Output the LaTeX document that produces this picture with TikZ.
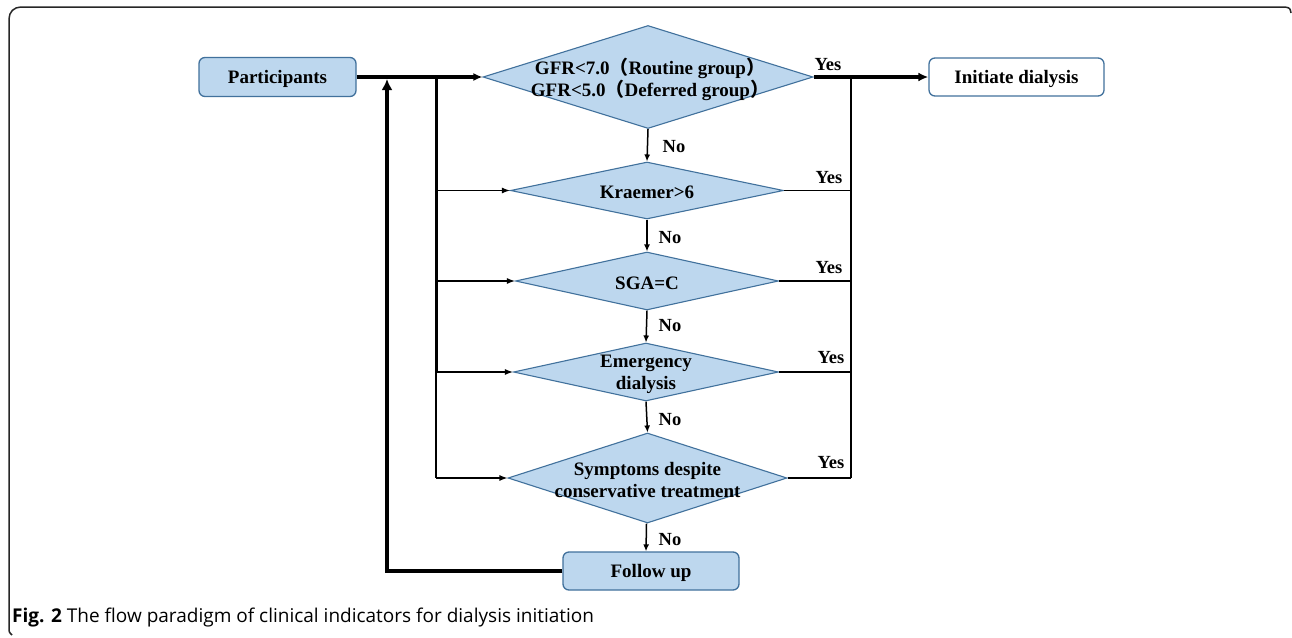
\documentclass[tikz,border=0pt]{standalone}
\usepackage{fontspec}
\setmainfont{Liberation Serif}
\newfontfamily\cjk{Noto Sans CJK SC}
\newfontfamily\capfont{Open Sans}
\usetikzlibrary{shapes.geometric,arrows.meta}
\definecolor{boxfill}{RGB}{189,215,238}
\definecolor{boxline}{RGB}{65,113,156}
\begin{document}
\begin{tikzpicture}[x=1pt,y=-1pt,
  txt/.style={font=\fontsize{19}{22}\selectfont\bfseries, align=center, inner sep=0pt},
  lbl/.style={font=\fontsize{18.5}{22}\selectfont\bfseries, inner sep=0pt},
  dec/.style={diamond, draw=boxline, line width=1.1pt, fill=boxfill, inner sep=0pt},
  blbox/.style={rectangle, rounded corners=6pt, draw=boxline, line width=1.3pt, fill=boxfill, inner sep=0pt},
  whbox/.style={rectangle, rounded corners=6pt, draw=boxline, line width=1.3pt, fill=white, inner sep=0pt},
  noarr/.style={line width=1.5pt, -{Latex[length=7pt,width=6pt]}},
  brarr/.style={line width=1.3pt, -{Latex[length=8pt,width=6pt]}},
  thin/.style={line width=1.5pt},
  thick/.style={line width=4pt}
]
\useasboundingbox (0,0) rectangle (1292,637);
\fill[white] (0,0) rectangle (1292,637);
% frame
\draw[line width=1.5pt, black!85] (1291,13) .. controls (1290,8) .. (1285,7) -- (21,7)
  .. controls (14,7) and (9,12) .. (9,19) -- (9,628) .. controls (9,632) .. (12,635);

% nodes
\node[blbox, minimum width=157pt, minimum height=39pt] (p) at (277.5,77) {};
\node[txt] (tp) at ([yshift=-2pt]p.center) {Participants};
\node[whbox, minimum width=175pt, minimum height=38pt] (init) at (1016.5,77) {};
\node[txt] (tinit) at ([yshift=-2pt]init.center) {Initiate dialysis};

\node[dec, minimum width=330pt, minimum height=103pt] (d1) at (648,77) {};
\node[txt] (t1) at (650,79) {GFR<7.0{\cjk （}Routine group{\cjk ）}\\GFR<5.0{\cjk （}Deferred group{\cjk ）}};
\node[dec, minimum width=273pt, minimum height=57pt] (d2) at (647,190.5) {};
\node[txt] (t2) at ([yshift=-2pt]d2.center) {Kraemer>6};
\node[dec, minimum width=263pt, minimum height=58pt] (d3) at (647,281) {};
\node[txt] (t3) at ([yshift=-2pt]d3.center) {SGA=C};
\node[dec, minimum width=265pt, minimum height=58pt] (d4) at (646,372) {};
\node[txt] (t4) at ([yshift=-2pt]d4.center) {Emergency\\dialysis};
\node[dec, minimum width=279pt, minimum height=90pt] (d5) at (647.5,478) {};
\node[txt] (t5) at ([yshift=-2pt]d5.center) {Symptoms despite\\conservative treatment};

\node[blbox, minimum width=176pt, minimum height=38pt] (fu) at (651,571) {};
\node[txt] (tfu) at ([yshift=-2pt]fu.center) {Follow up};

% helper coordinates
\coordinate (L) at (436,77);
\coordinate (R) at (851,77);
\coordinate (F) at (387,77);

% main flow
\draw[thick, -{Latex[length=9pt,width=8pt]}] (p.east) -- (d1.west);
\draw[thick, -{Latex[length=10pt,width=9pt]}] (d1.east) -- (init.west);

% left distributor
\draw[line width=3pt] (L) -- (L |- d4.west);
\draw[thin] (L |- d4.west) -- (L |- d5.west);
\draw[brarr] (L |- d2.west) -- (d2.west);
\draw[brarr] (L |- d3.west) -- (d3.west);
\draw[brarr] (L |- d4.west) -- (d4.west);
\draw[brarr] (L |- d5.west) -- (d5.west);

% right collector
\draw[line width=2.2pt] (R) -- (R |- d5.east);
\draw[thin] (d2.east) -- (R |- d2.east);
\draw[thin] (d3.east) -- (R |- d3.east);
\draw[thin] (d4.east) -- (R |- d4.east);
\draw[thin] (d5.east) -- (R |- d5.east);

% No arrows
\draw[noarr] (d1.south) -- (d2.north);
\draw[noarr] (d2.south) -- (d3.north);
\draw[noarr] (d3.south) -- (d4.north);
\draw[noarr] (d4.south) -- (d5.north);
\draw[noarr] ([xshift=-1pt]d5.south) -- ([xshift=-5pt]fu.north);

% feedback
\draw[line width=4.5pt, -{Latex[length=11pt,width=11pt]}, shorten >=2pt] (fu.west) -| (F);

% labels
\node[lbl] (y1) at (828,65) {Yes};
\node[lbl] (y2) at (829,178) {Yes};
\node[lbl] (y3) at (829,268) {Yes};
\node[lbl] (y4) at (831,358) {Yes};
\node[lbl] (y5) at (831,463) {Yes};
\node[lbl] (n1) at (674,147) {No};
\node[lbl] (n2) at (670,238) {No};
\node[lbl] (n3) at (670,326) {No};
\node[lbl] (n4) at (670,420) {No};
\node[lbl] (n5) at (670,540) {No};

% caption
\node[anchor=base west, inner sep=0pt, font=\capfont\fontsize{19}{22}\selectfont] (cap) at (12,622)
  {\textbf{Fig. 2} The flow paradigm of clinical indicators for dialysis initiation};
\end{tikzpicture}
\end{document}
